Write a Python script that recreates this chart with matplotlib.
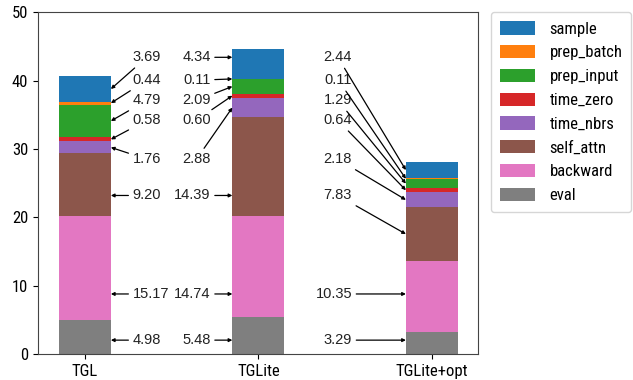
import numpy as np
import matplotlib.pyplot as plt
from matplotlib import font_manager

# ----------------------------
# Data (seconds per stage)
# ----------------------------
systems = ["TGL", "TGLite", "TGLite+opt"]
stages = ["eval", "backward", "self_attn", "time_nbrs",
          "time_zero", "prep_input", "prep_batch", "sample"]

eval_t = [4.98, 5.48, 3.29]
backward = [15.17, 14.74, 10.35]
self_attn = [9.20, 14.39, 7.83]
time_nbrs = [1.76, 2.88, 2.18]
time_zero = [0.58, 0.60, 0.64]
prep_input = [4.79, 2.09, 1.29]
prep_batch = [0.44, 0.11, 0.11]
sample = [3.69, 4.34, 2.44]

series = [eval_t, backward, self_attn, time_nbrs,
          time_zero, prep_input, prep_batch, sample]
colors = ["tab:gray", "tab:pink", "tab:brown", "tab:purple",
          "tab:red", "tab:green", "tab:orange", "tab:blue"]

# ----------------------------
# Layout of the value labels
# ----------------------------
label_y = [2.05, 8.8, 23.2, 28.5, 34.2, 37.1, 40.05, 43.4]  # bottom stage first
label_dx = [0.275, -0.275, -0.46]
label_ha = ["left", "right", "right"]

names = {f.name for f in font_manager.fontManager.ttflist}
tick_font = "Roboto"
for cand in ["Liberation Sans Narrow", "Roboto Condensed", "Open Sans Condensed"]:
    if cand in names:
        tick_font = cand
        break

# ----------------------------
# Plot
# ----------------------------
fig = plt.figure(figsize=(6.33, 3.8), dpi=100)
ax = fig.add_axes([0.06, 0.068, 0.695, 0.9])

x = np.arange(len(systems))
w = 0.3
bottom = np.zeros(len(systems))
for name, vals, c in zip(stages, series, colors):
    ax.bar(x, vals, w, bottom=bottom, color=c, label=name)
    bottom += np.array(vals)

# value annotations with arrows to the bars
for i in range(len(systems)):
    base = 0.0
    edge = x[i] + (w / 2 if label_dx[i] > 0 else -w / 2)
    for k, vals in enumerate(series):
        v = vals[i]
        ty = label_y[k]
        if base <= ty <= base + v:
            py = ty
        else:
            py = base + v / 2
        ax.annotate(f"{v:.2f}", xy=(edge, py), xytext=(x[i] + label_dx[i], ty),
                    ha=label_ha[i], va="center", fontsize=10.5,
                    fontfamily="Liberation Sans", color="#222222",
                    arrowprops=dict(arrowstyle="-|>", color="black", lw=0.9,
                                    mutation_scale=5, shrinkA=1, shrinkB=0))
        base += v

ax.set_xlim(-0.27, 2.265)
ax.set_ylim(0, 50)
ax.set_xticks(x)
ax.set_xticklabels(systems, fontsize=12, fontfamily=tick_font)
ax.set_yticks(np.arange(0, 51, 10))
for t in ax.get_yticklabels():
    t.set_fontsize(12)
    t.set_fontfamily(tick_font)
for s in ax.spines.values():
    s.set_color("#444444")

h, l = ax.get_legend_handles_labels()
ax.legend(h[::-1], l[::-1], loc="upper left", bbox_to_anchor=(1.03, 1.0),
          borderaxespad=0, handlelength=2.1, handleheight=0.85,
          labelspacing=0.5, borderpad=0.55, handletextpad=0.85,
          prop={"family": tick_font, "size": 12})

plt.savefig("out.png", dpi=100)
